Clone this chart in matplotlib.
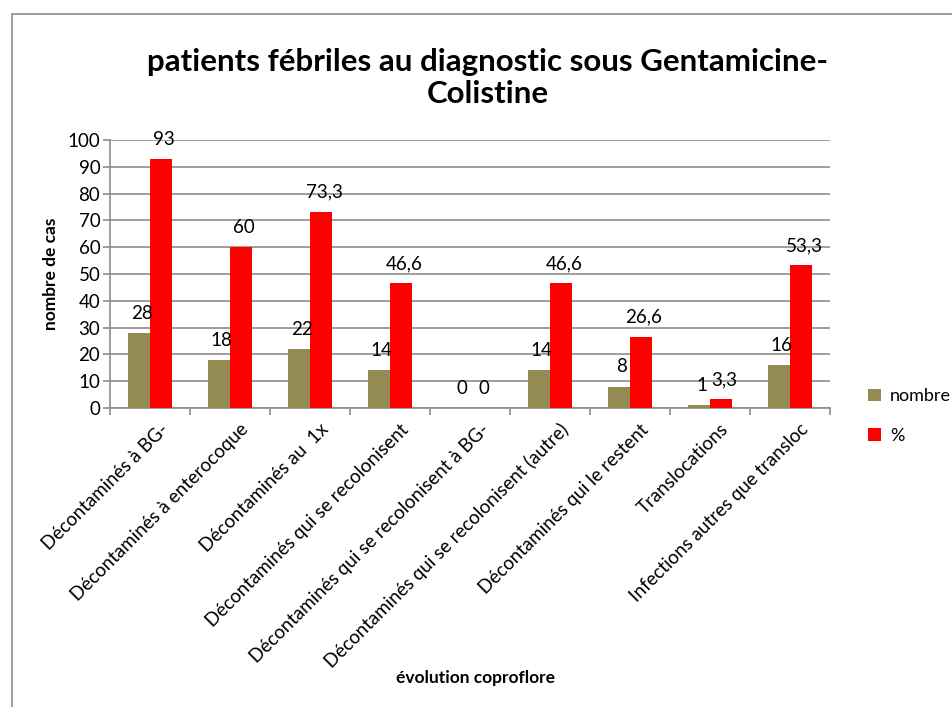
import matplotlib.pyplot as plt
import numpy as np
from matplotlib.patches import Rectangle

plt.rcParams['font.family'] = ['Lato', 'DejaVu Sans']

categories = ["Décontaminés à BG-", "Décontaminés à enterocoque",
              "Décontaminés au  1x", "Décontaminés qui se recolonisent",
              "Décontaminés qui se recolonisent à BG-",
              "Décontaminés qui se recolonisent (autre)",
              "Décontaminés qui le restent", "Translocations",
              "Infections autres que transloc"]
nombre = [28, 18, 22, 14, 0, 14, 8, 1, 16]
pourcent = [93, 60, 73.3, 46.6, 0, 46.6, 26.6, 3.3, 53.3]
y_ticks = [0, 10, 20, 30, 40, 50, 60, 70, 80, 90, 100]

OLIVE = "#948A54"
RED = "#FF0000"
GRID = "#8C8C8C"

fig = plt.figure(figsize=(9.52, 7.07), dpi=100)
# outer chart frame (runs off the right and bottom edges)
fig.patches.append(Rectangle((12 / 952, -0.05), 1.1, 1 - 14 / 707 + 0.05,
                             transform=fig.transFigure, fill=False,
                             edgecolor="#8C8C8C", linewidth=1.2))

ax = fig.add_axes([110 / 952, 1 - 408 / 707, 720 / 952, 268 / 707])

x = np.arange(len(categories))
w = 0.28
b1 = ax.bar(x - w / 2, nombre, w, color=OLIVE, label="nombre", zorder=3)
b2 = ax.bar(x + w / 2, pourcent, w, color=RED, label="%", zorder=3)


def fmt(v):
    return f"{v:g}".replace(".", ",")


for bars, vals in ((b1, nombre), (b2, pourcent)):
    for r, v in zip(bars, vals):
        ax.annotate(fmt(v), (r.get_x() + r.get_width() / 2, v),
                    xytext=(2, 8), textcoords="offset points",
                    ha="center", va="bottom", fontsize=13.5)

ax.set_xlim(-0.5, len(categories) - 0.5)
ax.set_ylim(0, 100)
ax.set_yticks(y_ticks)
ax.set_yticklabels([str(t) for t in y_ticks], fontsize=13.5)
ax.yaxis.grid(True, color=GRID, linewidth=1.2, zorder=0)
ax.set_axisbelow(True)

ax.set_xticks(np.arange(len(categories) + 1) - 0.5)
ax.set_xticklabels([])
ax.tick_params(axis="x", length=5, color=GRID, width=1.2)
ax.tick_params(axis="y", length=5, color=GRID, width=1.2, pad=2)
for s in ("top", "right"):
    ax.spines[s].set_visible(False)
for s in ("left", "bottom"):
    ax.spines[s].set_color(GRID)
    ax.spines[s].set_linewidth(1.2)

for i, lab in enumerate(categories):
    ax.text(i + 0.2, -0.07, lab, transform=ax.get_xaxis_transform(),
            rotation=45, rotation_mode="anchor", ha="right", va="center",
            fontsize=13.5)

ax.set_ylabel("nombre de cas", fontsize=12.5, fontweight="bold", labelpad=6)
fig.text(475 / 952, 1 - 678 / 707, "évolution coproflore", ha="center",
         va="center", fontsize=12.5, fontweight="bold")
fig.text(488 / 952, 1 - 78 / 707,
         "patients fébriles au diagnostic sous Gentamicine-\nColistine",
         ha="center", va="center", fontsize=22.5, fontweight="bold",
         linespacing=1.15)

fig.legend(handles=[b1, b2], labels=["nombre", "%"],
           loc="center left", bbox_to_anchor=(852 / 952, 1 - 416 / 707),
           frameon=False, fontsize=13, handlelength=0.7, handleheight=0.7,
           labelspacing=1.3, handletextpad=0.5)

fig.savefig("out.png", dpi=100)
